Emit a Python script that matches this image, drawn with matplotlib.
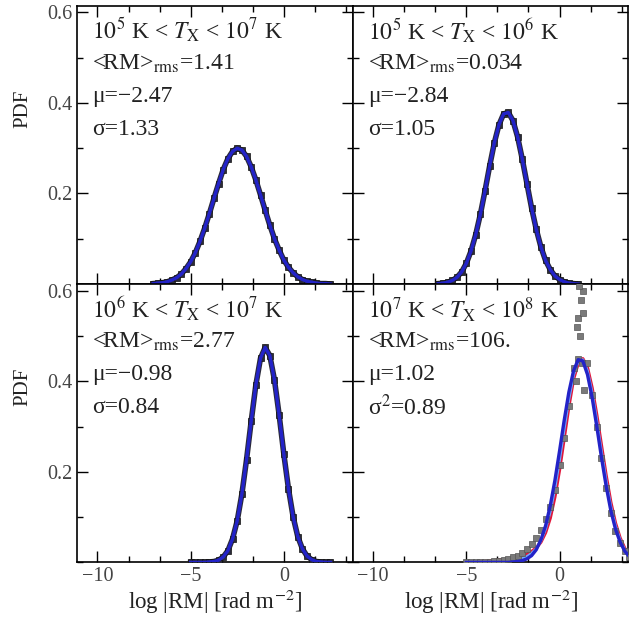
import numpy as np
import matplotlib.pyplot as plt
from matplotlib.ticker import MultipleLocator, AutoMinorLocator

plt.rcParams['font.family'] = ['Liberation Serif', 'DejaVu Serif']
plt.rcParams['mathtext.fontset'] = 'stix'

# ---- data ----
# top left: 10^5 K < T_X < 10^7 K
x_tl = np.arange(-7.0, 2.51, 0.25)
pdf_tl = [0.001, 0.002, 0.003, 0.005, 0.009, 0.014, 0.022, 0.034, 0.049, 0.069,
          0.094, 0.123, 0.155, 0.189, 0.222, 0.253, 0.277, 0.293, 0.300, 0.296,
          0.282, 0.259, 0.230, 0.197, 0.163, 0.130, 0.100, 0.075, 0.053, 0.037,
          0.025, 0.016, 0.010, 0.006, 0.004, 0.002, 0.001, 0.001, 0.000]

# top right: 10^5 K < T_X < 10^6 K
x_tr = np.arange(-6.5, 1.01, 0.25)
pdf_tr = [0.001, 0.002, 0.004, 0.008, 0.015, 0.027, 0.046, 0.073, 0.109, 0.154,
          0.206, 0.261, 0.312, 0.352, 0.376, 0.379, 0.361, 0.325, 0.276, 0.222,
          0.168, 0.121, 0.082, 0.052, 0.032, 0.018, 0.010, 0.005, 0.002, 0.001,
          0.000]

# bottom left: 10^6 K < T_X < 10^7 K
x_bl = np.arange(-5.0, 2.51, 0.25)
pdf_bl = [0.000, 0.000, 0.000, 0.000, 0.001, 0.002, 0.005, 0.012, 0.026, 0.052,
          0.092, 0.151, 0.227, 0.312, 0.392, 0.451, 0.475, 0.457, 0.403, 0.326,
          0.240, 0.163, 0.101, 0.057, 0.030, 0.014, 0.006, 0.002, 0.001, 0.000,
          0.000]

# bottom right: 10^7 K < T_X < 10^8 K
x_br = np.arange(-5.0, 3.76, 0.25)
pdf_br = [0.000, 0.000, 0.000, 0.001, 0.001, 0.002, 0.003, 0.004, 0.006, 0.008,
          0.011, 0.015, 0.021, 0.029, 0.040, 0.054, 0.072, 0.095, 0.123, 0.160,
          0.215, 0.275, 0.345, 0.430, 0.540, 0.600, 0.440, 0.370, 0.300, 0.230,
          0.165, 0.110, 0.070, 0.043, 0.025, 0.013]
fit_br = [0.000, 0.000, 0.000, 0.000, 0.000, 0.000, 0.000, 0.000, 0.000, 0.000,
          0.001, 0.002, 0.004, 0.008, 0.015, 0.028, 0.050, 0.081, 0.125, 0.181,
          0.246, 0.314, 0.376, 0.423, 0.448, 0.445, 0.415, 0.364, 0.300, 0.232,
          0.169, 0.115, 0.074, 0.045, 0.025, 0.013]
red_br = [0.001, 0.001, 0.001, 0.002, 0.002, 0.003, 0.004, 0.005, 0.006, 0.007,
          0.009, 0.011, 0.014, 0.018, 0.024, 0.032, 0.045, 0.066, 0.098, 0.145,
          0.205, 0.275, 0.345, 0.405, 0.440, 0.450, 0.430, 0.385, 0.325, 0.258,
          0.192, 0.133, 0.087, 0.054, 0.031, 0.017]
cyan_br = [0.000, 0.000, 0.001, 0.001, 0.001, 0.002, 0.002, 0.003, 0.003, 0.004,
           0.005, 0.006, 0.009, 0.013, 0.020, 0.030, 0.048, 0.074, 0.112, 0.163,
           0.226, 0.295, 0.360, 0.414, 0.444, 0.448, 0.423, 0.375, 0.313, 0.245,
           0.181, 0.124, 0.081, 0.050, 0.028, 0.015]
# scattered points in the peak bin
x_br_peak = [0.9, 0.95, 1.0, 1.05, 1.1, 1.15, 1.2, 1.25, 1.3]
pdf_br_peak = [0.40, 0.52, 0.45, 0.61, 0.50, 0.58, 0.44, 0.55, 0.38]

ranges = [r'$10^5$ K < $T_{\rm X}$ < $10^7$ K',
          r'$10^5$ K < $T_{\rm X}$ < $10^6$ K',
          r'$10^6$ K < $T_{\rm X}$ < $10^7$ K',
          r'$10^7$ K < $T_{\rm X}$ < $10^8$ K']
rms = ['1.41', '0.034', '2.77', '106.']
mus = ['\u22122.47', '\u22122.84', '\u22120.98', '1.02']
sigmas = ['\u03c3=1.33', '\u03c3=1.05', '\u03c3=0.84', '\u03c3$^2$=0.89']

xs = [x_tl, x_tr, x_bl, x_br]
pdfs = [pdf_tl, pdf_tr, pdf_bl, pdf_br]

fig = plt.figure(figsize=(6.31, 6.27), dpi=100)
W, H = 0.437, 0.444
pos = [(0.122, 0.547), (0.559, 0.547), (0.122, 0.103), (0.559, 0.103)]

txt_col = '#222222'
for i in range(4):
    ax = fig.add_axes([pos[i][0], pos[i][1], W, H])
    if i == 3:
        ax.plot(x_br, red_br, color='#e0163a', lw=2.4, zorder=2)
        ax.plot(x_br, cyan_br, color='#6fa8ff', lw=2.0, zorder=3)
        ax.plot(x_br, pdf_br, 's', ms=4.2, color='#7a7a7a', mec='#555555', mew=0.5, zorder=4)
        ax.plot(x_br_peak, pdf_br_peak, 's', ms=4.2, color='#7a7a7a', mec='#555555', mew=0.5, zorder=4)
        ax.plot(x_br, fit_br, color='#2323c8', lw=2.4, zorder=5)
    else:
        ax.plot(xs[i], pdfs[i], color='#e0163a', lw=2.0, zorder=2)
        ax.plot(xs[i], pdfs[i], color='#2a2a3a', lw=4.0, zorder=3)
        ax.plot(xs[i], pdfs[i], 's', ms=4.4, color='#2a2a3a', mec='#111111', mew=0.5, zorder=3)
        ax.plot(xs[i], pdfs[i], color='#2323c8', lw=2.4, zorder=4)

    ax.set_xlim(-11.1, 3.7)
    ax.set_ylim(0, 0.615)
    ax.xaxis.set_major_locator(MultipleLocator(5))
    ax.xaxis.set_minor_locator(AutoMinorLocator(3))
    ax.yaxis.set_major_locator(MultipleLocator(0.2))
    ax.yaxis.set_minor_locator(AutoMinorLocator(2))
    ax.tick_params(which='both', direction='in', top=True, right=True,
                   labelsize=14.5, labelcolor='#444444', width=1.0)
    ax.tick_params(which='major', length=8)
    ax.tick_params(which='minor', length=4)
    for sp in ax.spines.values():
        sp.set_linewidth(1.2)

    ax.set_yticks([0.2, 0.4, 0.6])
    ax.set_yticklabels(['0.2', '0.4', '0.6'])
    if i % 2 == 1:
        ax.set_yticklabels([])
    else:
        ax.set_ylabel('PDF', fontsize=15, color=txt_col)
        ax.yaxis.set_label_coords(-0.16, 0.63)
    if i < 2:
        ax.set_xticklabels([])
    else:
        ax.set_xticks([-10, -5, 0])
        ax.set_xticklabels(['\u221210', '\u22125', '0'])
        ax.set_xlabel(r'log |RM| [rad m$^{-2}$]', fontsize=16.5, color=txt_col, labelpad=1)

    lines = [ranges[i], '<RM>$_{\\rm rms}$=' + rms[i], '\u03bc=' + mus[i], sigmas[i]]
    for k, s in enumerate(lines):
        ax.text(0.055, 0.91 - k * 0.118, s, transform=ax.transAxes,
                fontsize=17, color=txt_col, va='center', ha='left')

fig.savefig('out.png', dpi=100)
